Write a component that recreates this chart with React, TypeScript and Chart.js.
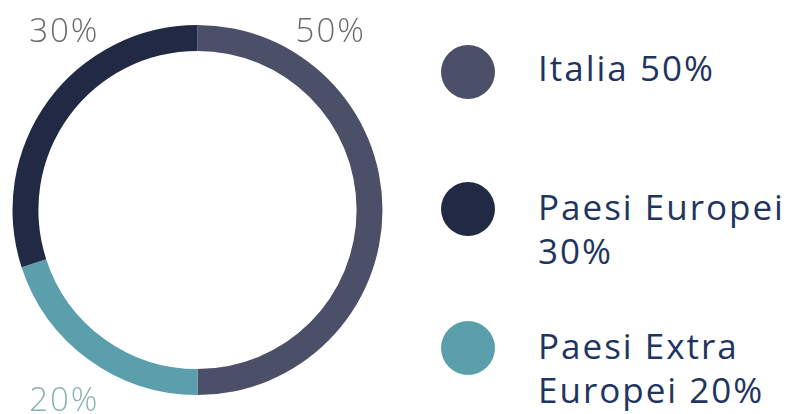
import React, { useEffect, useRef } from "react";
import { Chart, registerables } from "chart.js";

Chart.register(...registerables);

// Chart order (clockwise from top)
const sliceLabels = ["Italia", "Paesi Extra Europei", "Paesi Europei"];
const sliceValues = [50, 20, 30];
const sliceColors = ["#4b4f67", "#5a9fab", "#222945"];
const sliceLabelColors = ["#6a6a6a", "#8ab2b3", "#6a6a6a"];

// Legend order
const legendLines = [["Italia 50%"], ["Paesi Europei", "30%"], ["Paesi Extra", "Europei 20%"]];
const legendColors = ["#4b4f67", "#222945", "#5a9fab"];
const legendTops = [45, 182, 321];

const FONT = "'Open Sans', 'DejaVu Sans', sans-serif";

const outerLabels = {
  id: "outerLabels",
  afterDraw(chart: any) {
    const meta = chart.getDatasetMeta(0);
    const arc = meta.data[0];
    if (!arc) return;
    const { x, y, outerRadius } = arc.getProps(["x", "y", "outerRadius"], true);
    const ctx = chart.ctx;
    ctx.save();
    ctx.font = `300 33px ${FONT}`;
    (ctx as any).letterSpacing = "2px";
    ctx.textAlign = "center";
    ctx.textBaseline = "alphabetic";
    let start = 0;
    const total = sliceValues.reduce((a, b) => a + b, 0);
    sliceValues.forEach((v, i) => {
      const mid = ((start + v / 2) / total) * Math.PI * 2;
      start += v;
      const sx = Math.sin(mid) >= 0 ? 1 : -1;
      const top = Math.cos(mid) > -0.2 && !(i === 1);
      const lx = x + sx * outerRadius * 0.72;
      const ly = top ? y - outerRadius + 17 : y + outerRadius + 16;
      ctx.fillStyle = sliceLabelColors[i];
      ctx.fillText(`${v}%`, lx, ly);
    });
    ctx.restore();
  },
};

export default function App() {
  const ref = useRef<HTMLCanvasElement>(null);
  useEffect(() => {
    if (!ref.current) return;
    const chart = new Chart(ref.current, {
      type: "doughnut",
      data: {
        labels: sliceLabels,
        datasets: [
          {
            data: sliceValues,
            backgroundColor: sliceColors,
            borderWidth: 0,
          },
        ],
      },
      options: {
        animation: false,
        responsive: false,
        cutout: "86%",
        layout: { padding: { top: 25, bottom: 19, left: 12, right: 12 } },
        plugins: {
          legend: { display: false },
          tooltip: { enabled: false },
        },
      },
      plugins: [outerLabels],
    });
    return () => chart.destroy();
  }, []);

  return (
    <div style={{ position: "absolute", left: 0, top: 0, width: 794, height: 414, background: "#fff", overflow: "hidden" }}>
      <canvas ref={ref} width={395} height={414} style={{ position: "absolute", left: 0, top: 0, width: 395, height: 414 }} />
      {legendLines.map((lines, i) => (
        <div key={i} style={{ position: "absolute", left: 441, top: legendTops[i], height: 90 }}>
          <div
            style={{
              position: "absolute",
              left: 0,
              top: 0,
              width: 54,
              height: 54,
              borderRadius: "50%",
              background: legendColors[i],
            }}
          />
          <div
            style={{
              position: "absolute",
              left: 97,
              top: i === 0 ? 1 : 3,
              whiteSpace: "nowrap",
              fontFamily: FONT,
              fontWeight: 400,
              fontSize: 35,
              letterSpacing: "2px",
              lineHeight: "44px",
              color: "#1f3560",
            }}
          >
            {lines.map((l, j) => (
              <div key={j}>{l}</div>
            ))}
          </div>
        </div>
      ))}
    </div>
  );
}
